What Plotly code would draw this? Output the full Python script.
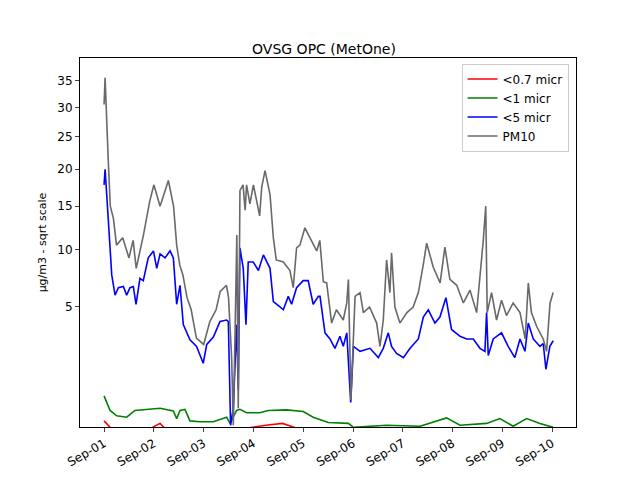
import numpy as np
import pandas as pd
import plotly.graph_objects as go

START = pd.Timestamp("2023-09-01 00:00")

# hours since Sep-01 00:00 and concentrations (µg/m3)
pm10_hours = [0, 0.5, 2, 3, 4.5, 6, 9, 12, 14, 15.5, 19, 20.5, 22, 24, 27, 31, 33.5, 35, 36.5, 38,
              40, 42, 44.5, 48, 51, 54, 56, 59, 60, 61.5, 62.3, 63, 64, 64.7, 65.5, 67, 68, 68.7, 70.3, 72,
              75, 76, 77.6, 80, 81.6, 83, 86.4, 89.6, 91.2, 92.8, 94.4, 96.8, 99.2, 101, 102.5, 104, 105.7,
              107.3, 109.7, 112, 115.3, 117, 117.8, 119, 120.2, 121, 123.4, 125, 128, 131.4, 133, 134.6,
              136.2, 137.8, 138.6, 140.2, 142.6, 146, 149, 151.5, 154, 155.5, 158.7, 162, 164.3, 166.7,
              170, 173.2, 176.4, 179.6, 182.8, 184, 184.7, 186.8, 189.2, 191.6, 194, 197.2, 200.5, 203,
              204.5, 206, 208.5, 211.7, 213.3, 215, 216.5]
pm10 = [30.5, 35.5, 21.5, 15, 13.5, 10.5, 11.3, 9.2, 11, 8.2, 11.6, 13.8, 15.6, 17.8, 15, 18.4, 15, 10.5, 8.5, 7.6,
        5.7, 4.8, 3, 2.65, 4, 4.8, 6.2, 6.7, 5.7, 2, 0.1, 2.4, 11.6, 0.35, 17, 17.8, 14.5, 17.8, 15.3, 17.8,
        13.8, 17.5, 19.8, 16.5, 11.3, 9, 8.8, 8, 6.5, 10.2, 10.5, 12.4, 11.3, 10.5, 9.9, 11, 7,
        6.9, 3.9, 4.8, 4.1, 5.3, 7.2, 0.53, 3.3, 5.8, 6.1, 4.6, 5, 3.9, 2.55, 4.1,
        9, 6.1, 9.7, 5, 3.9, 4.6, 5, 6.1, 8.7, 10.7, 8.3, 6.9, 10.3, 7.2,
        6.7, 5.3, 6.3, 4.6, 11, 15, 4.6, 6.1, 4.1, 5.5, 4.4, 5.3, 4.6, 2.95,
        6.9, 4.6, 3.7, 2.95, 2.3, 5.3, 6.1]

lt5_hours = [0, 0.5, 2, 3, 3.7, 5.3, 6.9, 9.3, 10.9, 12.5, 14.1, 15.4, 17.3, 18.9, 21.3, 23.8, 25.4, 27, 29.4, 31.8,
             33.4, 35, 36.6, 38.2, 41.4, 44.6, 47.8, 49.5, 52.7, 55.9, 59.1, 59.9, 61, 62.3, 63.9, 64.7, 65.5,
             67.1, 68.4, 69.5, 71.9, 74.4, 76.8, 80, 81.6, 84.8, 86.4, 88.8, 90.4, 92.8, 96, 98.4, 100.8, 103.3,
             104.1, 106.5, 108.9, 111.3, 113.7, 115.3, 117, 118.9, 120.2, 123.4, 128.2, 132.2, 134.6, 137,
             138.6, 141, 144.3, 147.5, 151.5, 153.9, 156.3, 159.5, 161.9, 164.8, 167.5, 171.6, 174.8, 178,
             181.2, 183.6, 184.4, 185.2, 187.6, 191.6, 194.8, 198, 200.5, 202.9, 204.5, 206.9, 210.1, 211.7,
             213, 214.9, 216.5]
lt5 = [17.8, 20, 13.5, 9.5, 7.6, 5.9, 6.5, 6.6, 5.9, 6.5, 6.6, 5.2, 7.3, 7.1, 9.2, 9.9, 8.2, 9.6, 9.2, 9.9,
       9.2, 5.2, 6.7, 3.8, 2.9, 2.55, 1.75, 2.65, 3.05, 4, 4.1, 4, 0.1, 0.35, 3.8, 0.8, 10.2,
       8.2, 3.8, 8.8, 8.8, 8, 9.5, 8.2, 5.4, 5, 4.8, 5.8, 5.2, 6.5, 7.1, 7.1, 5.2, 5.8,
       5.8, 3.3, 2.95, 2.45, 3.1, 2.55, 3.3, 0.47, 2.55, 2.3, 2.45, 2.0, 2.45, 3.3,
       2.55, 2.2, 2.0, 2.45, 2.95, 4.3, 4.8, 3.9, 4.3, 5.7, 3.5, 3.1, 2.95, 2.95,
       2.45, 2.3, 4.6, 2.1, 2.95, 3.3, 2.55, 2.0, 2.95, 2.3, 3.9, 2.95, 2.55, 2.7,
       1.5, 2.55, 2.85]

lt1_hours = [0, 2.9, 6.1, 10.9, 14.9, 20.5, 27, 33.4, 35, 36.6, 39, 41.4, 46.2, 52.7, 59.1, 60.7, 63.9, 65.5,
             68.7, 75.1, 79.2, 88, 96, 100.8, 108.1, 117.8, 120.2, 136.2, 152.3, 165.1, 171.6, 184.4, 190.8,
             197.2, 203.7, 210.1, 216.5]
lt1 = [0.63, 0.31, 0.22, 0.2, 0.31, 0.33, 0.35, 0.3, 0.18, 0.31, 0.33, 0.15, 0.14, 0.14, 0.2, 0.12, 0.31, 0.33,
       0.27, 0.27, 0.31, 0.32, 0.29, 0.2, 0.13, 0.12, 0.08, 0.1, 0.09, 0.19, 0.1, 0.12, 0.18,
       0.09, 0.18, 0.12, 0.08]

lt07_hours = [0, 2, 4, 20, 27, 30, 60, 78, 86, 95, 130, 216.5]
lt07 = [0.15, 0.1, 0.06, 0.05, 0.12, 0.06, 0.05, 0.1, 0.12, 0.06, 0.05, 0.05]

ytick_vals = [5, 10, 15, 20, 25, 30, 35]


def to_time(hours):
    return START + pd.to_timedelta(hours, unit="h")


fig = go.Figure()
series = [
    (lt07_hours, lt07, "<0.7 micr", "red"),
    (lt1_hours, lt1, "<1 micr", "green"),
    (lt5_hours, lt5, "<5 micr", "blue"),
    (pm10_hours, pm10, "PM10", "dimgray"),
]
for hrs, vals, name, color in series:
    fig.add_trace(go.Scatter(
        x=to_time(hrs), y=np.sqrt(vals), name=name, mode="lines",
        line=dict(color=color, width=1.6)
    ))

# page body adds an 8px margin, so the figure is sized to fit inside 640x480
fig.update_layout(
    width=632, height=472,
    margin=dict(l=72, r=64, t=50, b=53),
    plot_bgcolor="white", paper_bgcolor="white",
    font=dict(family="DejaVu Sans", size=12, color="black"),
    title=dict(text="OVSG OPC (MetOne)", x=0.5, xanchor="center", y=0.924, font_size=14),
    legend=dict(x=0.985, y=0.985, xanchor="right", yanchor="top",
                bordercolor="#cccccc", borderwidth=1, bgcolor="white",
                font_size=12),
    showlegend=True,
)
fig.update_xaxes(
    range=[to_time(-11.6), to_time(227.5)],
    tickformat="%b-%d", dtick=86400000, tick0=START,
    tickangle=-30, ticks="outside", ticklen=4,
    showgrid=False, showline=True, linecolor="black", mirror=True, zeroline=False,
)
fig.update_yaxes(
    range=[0.288, 6.278],
    tickvals=np.sqrt(ytick_vals), ticktext=[str(v) for v in ytick_vals],
    ticks="outside", ticklen=4,
    title_text="µg/m3 - sqrt scale", title_font_size=11, title_standoff=8,
    showgrid=False, showline=True, linecolor="black", mirror=True, zeroline=False,
)

fig.write_html("out.html")
